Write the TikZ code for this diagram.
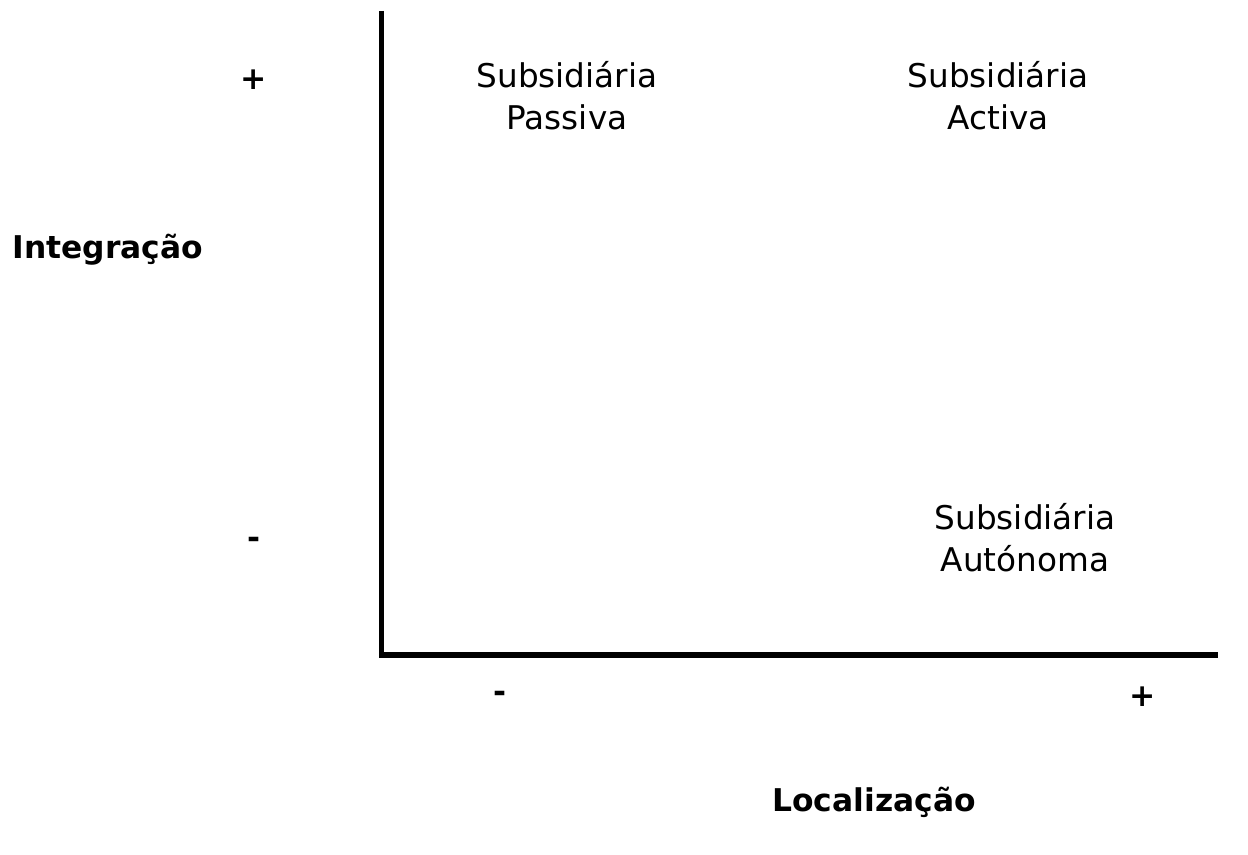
\documentclass[tikz,border=0pt]{standalone}
\usepackage{fontspec}
\setmainfont{DejaVu Sans}
\begin{document}
\begin{tikzpicture}[x=0.75pt,y=-0.75pt,
  lbl/.style={font=\fontsize{24.5}{31.5}\selectfont, align=center, inner sep=0pt},
  blbl/.style={font=\fontsize{23.5}{31}\selectfont\bfseries, inner sep=0pt},
  axis/.style={line width=3.9pt}]
\useasboundingbox (0,0) rectangle (1248,855);
\coordinate (top) at (381.5,11);
\coordinate (origin) at (381.5,655);
\coordinate (right) at (1218,655);
\draw[axis] (top) -- (origin) -- (right);
\node[blbl] (yplus) at (254,80) {+};
\node[blbl] (yminus) at (254,543) {-};
\node[blbl] (xminus) at (500,697) {-};
\node[blbl] (xplus) at (1143,697) {+};
\node[blbl] (ylab) at (108,250) {Integração};
\node[blbl] (xlab) at (874,802) {Localização};
\node[lbl] (passiva) at (567,96) {Subsidiária\\Passiva};
\node[lbl] (activa) at (998,96) {Subsidiária\\Activa};
\node[lbl] (autonoma) at (1025,538) {Subsidiária\\Autónoma};
\end{tikzpicture}
\end{document}
